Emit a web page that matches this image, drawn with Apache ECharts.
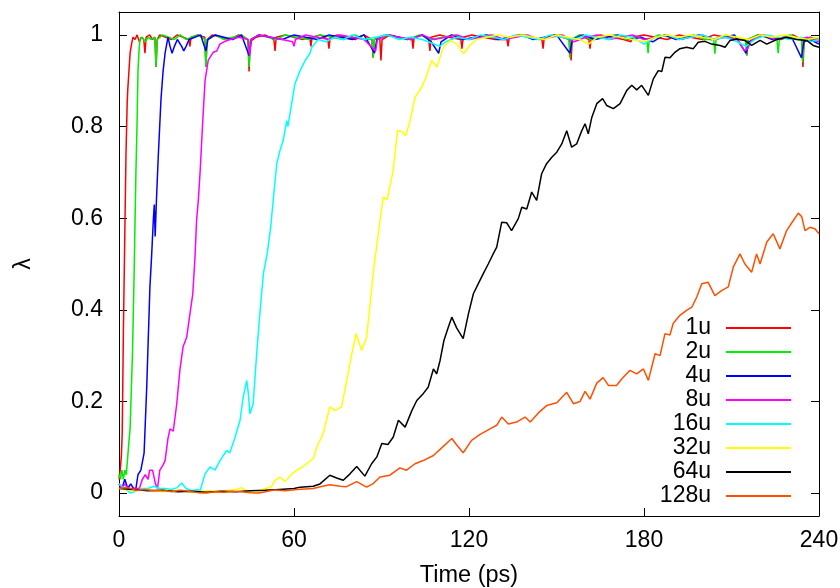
<!DOCTYPE html>
<html><head><meta charset="utf-8">
<script src="https://cdn.jsdelivr.net/npm/echarts@6/dist/echarts.min.js"></script>
<style>html,body{margin:0;padding:0;background:#fff}#c{width:840px;height:588px}</style>
</head><body><div id="c"></div>
<script>
const seriesNames = ['1u','2u','4u','8u','16u','32u','64u','128u'];
const seriesColors = ['#ff0000','#00ee00','#0000ff','#ff00ff','#00ffff','#ffff00','#000000','#ff5000'];
const xTicks = [0,60,120,180,240];
const yTicks = [0,0.2,0.4,0.6,0.8,1];

const s1u = [[0,0.03],[0.4,0.05],[0.8,0.08],[1.1,0.13],[1.5,0.35],[2.0,0.57],[2.4,0.74],[2.8,0.85],[3.0,0.88],[3.4,0.92],[3.8,0.96],[4.3,0.98],[4.8,0.995],[5.5,0.99],[6.2,1.0],[7,0.985],[7.6,0.995],[8.5,0.99],[8.9,0.96],[9.3,0.995],[10.5,1.0],[11.5,0.99],[12.3,0.995],[12.7,0.93],[13.1,0.99],[14,1.0],[16,0.995],[18,0.99],[20,1.0],[22,0.995],[23.9,0.99],[24.3,0.975],[24.7,0.995],[27,1.0],[29.4,0.995],[29.8,0.93],[30.2,0.99],[32,1.0],[35,0.995],[38,0.99],[41,1.0],[44.2,0.99],[44.6,0.92],[45,0.985],[47,0.995],[50,1.0],[53.1,0.99],[53.5,0.965],[53.9,0.995],[57,1.0],[60,0.995],[63,0.99],[65.4,0.995],[65.8,0.975],[66.2,0.995],[69,1.0],[71.6,0.99],[72,0.97],[72.4,0.995],[75,1.0],[78,0.995],[81,0.99],[84,1.0],[86.7,0.99],[87.1,0.95],[87.5,0.99],[89.4,0.995],[89.8,0.944],[90.2,0.99],[93,1.0],[96,0.995],[99,0.99],[100.4,0.995],[100.8,0.97],[101.2,0.995],[104,1.0],[106.2,0.99],[106.6,0.965],[107,0.995],[110,1.0],[113,0.995],[117.2,0.99],[117.6,0.97],[118,0.995],[121,1.0],[125,0.995],[129,0.99],[133,0.99],[133.4,0.975],[133.8,0.995],[137,1.0],[141,0.995],[145,0.99],[145.4,0.97],[145.8,0.995],[149,1.0],[152,0.995],[154.6,0.99],[155,0.944],[155.4,0.99],[158,1.0],[161.1,0.99],[161.5,0.97],[161.9,0.995],[165,1.0],[169,0.995],[173,0.99],[175.5,0.985],[176,0.995],[180,1.0],[184,0.995],[188,0.99],[192,1.0],[196,0.995],[200,0.99],[204,1.0],[208,0.995],[212,0.99],[214.9,0.99],[215.3,0.955],[215.7,0.99],[219,1.0],[223,0.995],[227,0.99],[231,1.0],[234.1,0.99],[234.5,0.93],[234.9,0.985],[237,0.995],[240,0.99]];

const s2u = [[0,0.04],[0.5,0.03],[1,0.05],[1.5,0.03],[2,0.05],[2.5,0.04],[3,0.08],[3.5,0.12],[3.8,0.14],[4.2,0.22],[4.6,0.3],[5,0.42],[5.3,0.52],[5.8,0.7],[6.2,0.81],[6.5,0.92],[6.9,0.97],[7.2,0.99],[8,0.995],[9,0.985],[10,0.995],[11,0.99],[12.3,0.995],[12.7,0.93],[13.1,0.99],[15,1.0],[17,0.995],[19,0.99],[21,1.0],[23,0.99],[25,0.995],[27,1.0],[29.4,0.99],[29.8,0.93],[30.2,0.99],[33,1.0],[36,0.99],[39,0.995],[42,1.0],[44.2,0.99],[44.6,0.93],[45,0.99],[48,1.0],[51,0.995],[54,0.99],[57,1.0],[61,0.995],[65,0.99],[69,1.0],[73,0.995],[77,0.99],[81,1.0],[84,0.99],[86.8,0.99],[87.2,0.95],[87.6,0.99],[91,1.0],[95,0.995],[99,0.99],[103,1.0],[107,0.99],[111,0.995],[115,1.0],[119,0.99],[123,0.995],[127,1.0],[131,0.99],[135,0.995],[139,1.0],[143,0.99],[147,0.995],[151,1.0],[154.2,0.99],[154.6,0.95],[155,0.99],[158,1.0],[162,0.99],[166,0.995],[170,1.0],[174,0.99],[178,0.995],[181,0.99],[181.4,0.96],[181.8,0.99],[185,1.0],[189,0.995],[193,0.99],[197,1.0],[201,0.99],[203.9,0.99],[204.3,0.959],[204.7,0.99],[208,1.0],[212,0.99],[214.8,0.99],[215.2,0.955],[215.6,0.99],[219,1.0],[222,0.995],[225.6,0.99],[226,0.96],[226.4,0.99],[230,1.0],[234,0.99],[234.4,0.94],[234.8,0.99],[237,0.995],[240,0.985]];

const s4u = [[0,0.02],[1,0.01],[2,0.03],[3,0.01],[4,0.02],[5,0.01],[5.8,0.01],[6.5,0.04],[7.5,0.05],[8.6,0.087],[9.5,0.23],[10.6,0.45],[11.2,0.52],[11.8,0.6],[12.1,0.63],[12.4,0.56],[12.9,0.65],[13.5,0.74],[14.4,0.86],[15.1,0.92],[15.8,0.96],[16.8,0.995],[17.5,0.975],[18.2,0.96],[19,0.975],[20,0.99],[21.5,0.975],[22.2,0.965],[23,0.975],[24,0.99],[26,0.995],[28,1.0],[29.8,0.965],[30.5,0.99],[33,1.0],[36,0.995],[39,0.99],[42,1.0],[44.6,0.955],[45.4,0.99],[48,1.0],[52,0.995],[56,0.99],[60,1.0],[64,0.995],[68,0.99],[72,1.0],[76,0.995],[80,0.99],[84,1.0],[87.6,0.96],[88.4,0.99],[92,1.0],[96,0.995],[100,0.99],[104,1.0],[107,0.985],[109.6,0.96],[110.4,0.985],[114,1.0],[118,0.99],[122,0.995],[126,1.0],[130,0.99],[134,0.995],[138,1.0],[142,0.99],[146,0.995],[150,1.0],[154.6,0.96],[155.4,0.99],[159,1.0],[163,0.99],[167,0.995],[171,1.0],[175,0.99],[179,0.995],[183,0.985],[187,1.0],[191,0.99],[195,0.995],[199,1.0],[203,0.99],[207,0.995],[211,1.0],[215,0.96],[216,0.985],[220,1.0],[224,0.99],[228,0.995],[231,0.99],[234,0.95],[234.8,0.985],[237,0.99],[240,0.98]];

const s8u = [[0,0.02],[1,0.01],[2,0.02],[3,0.01],[5,0.01],[7,0.01],[8,0.03],[9,0.04],[10,0.03],[10.5,0.05],[11.5,0.05],[12.5,0.02],[13.2,0.01],[14,0.05],[15,0.06],[15.8,0.071],[16.8,0.12],[17.5,0.14],[18.6,0.135],[19.8,0.195],[20.9,0.27],[22,0.32],[23.2,0.34],[24.3,0.39],[25.3,0.435],[26.1,0.52],[26.6,0.595],[27.2,0.64],[27.8,0.70],[28.7,0.81],[29.5,0.90],[30.6,0.945],[32.3,0.962],[33.5,0.965],[34.6,0.98],[36,0.985],[38,0.99],[41,0.995],[44.2,0.99],[44.8,0.955],[45.4,0.99],[48,1.0],[52,0.995],[56,0.99],[59.5,0.985],[60,0.975],[60.5,0.99],[64,1.0],[68,0.995],[72,0.99],[76,1.0],[80,0.995],[84,0.99],[88,0.965],[88.6,0.99],[92,1.0],[96,0.995],[100,0.99],[104,1.0],[108,0.99],[112,0.995],[116,1.0],[120,0.99],[124,0.995],[128,1.0],[132,0.99],[136,0.995],[140,1.0],[144,0.99],[148,0.995],[152,1.0],[156,0.985],[160,0.995],[164,1.0],[168,0.99],[172,0.995],[176,1.0],[180,0.99],[184,0.995],[188,1.0],[192,0.99],[196,0.995],[200,1.0],[204,0.99],[208,0.995],[212,0.99],[214.5,0.965],[215.5,0.97],[217,0.99],[221,1.0],[225,0.99],[229,0.995],[233,0.99],[236,0.995],[240,0.985]];

const s16u = [[0,0.02],[2,0.01],[4,0.0],[6,0.005],[8,0.01],[10,0.01],[12,0.015],[14,0.01],[16,0.01],[18,0.008],[20,0.012],[21.5,0.022],[23,0.01],[25,0.005],[27,0.008],[27.8,0.005],[29.5,0.042],[31.2,0.057],[32.9,0.05],[34.6,0.071],[36.9,0.093],[38,0.088],[39.8,0.122],[41.5,0.159],[42.6,0.21],[43.8,0.246],[44.3,0.22],[44.9,0.173],[46,0.195],[47.2,0.304],[48.1,0.377],[49.5,0.479],[50.8,0.522],[52,0.58],[53.3,0.668],[54.1,0.719],[55.2,0.748],[56.3,0.77],[57.5,0.813],[57.9,0.80],[59.2,0.85],[60.3,0.893],[62.1,0.922],[63.8,0.944],[65.5,0.96],[66.1,0.973],[68.3,0.99],[71,0.985],[74,0.995],[77,0.99],[80,1.0],[84,0.99],[88,0.995],[92,1.0],[96,0.99],[100,0.995],[104,0.99],[108,0.98],[110,0.975],[112,0.985],[116,0.995],[120,0.99],[124,1.0],[128,0.995],[132,0.99],[136,1.0],[140,0.995],[144,0.99],[148,1.0],[152,0.995],[156,0.99],[160,1.0],[164,0.995],[168,0.99],[172,1.0],[176,0.995],[180,0.98],[184,0.995],[188,1.0],[192,0.99],[196,0.995],[200,1.0],[204,0.99],[208,0.995],[212,0.985],[215,0.975],[218,0.99],[222,1.0],[226,0.995],[230,0.99],[234,0.995],[237,0.985],[240,0.99]];

const s32u = [[0,0.01],[5,0.005],[10,0.008],[15,0.003],[20,0.006],[25,0.002],[30,0.005],[35,0.004],[40,0.008],[42,0.012],[44,0.004],[47,0.0],[50,0.01],[52,0.012],[53.5,0.028],[55.2,0.035],[57,0.025],[59,0.04],[60.9,0.05],[62.5,0.055],[64.3,0.064],[66.6,0.075],[67.8,0.10],[70,0.13],[72.3,0.188],[74.1,0.18],[76.3,0.188],[78.1,0.246],[79.8,0.304],[81.3,0.348],[83.2,0.311],[84.9,0.34],[86.1,0.413],[87.4,0.493],[89.5,0.595],[90.6,0.646],[91.9,0.64],[94,0.704],[95.5,0.791],[96.9,0.79],[98.3,0.78],[99.8,0.813],[101.5,0.864],[103.8,0.886],[105.3,0.908],[107.2,0.944],[109,0.93],[111.2,0.973],[113.5,0.988],[115.8,0.98],[118.1,0.959],[120.3,0.977],[122.6,0.99],[126,0.995],[130,1.0],[134,0.995],[138,1.0],[142,0.995],[146,0.99],[150,1.0],[154,0.995],[158,0.99],[161,0.98],[164,0.995],[168,1.0],[172,0.995],[176,0.99],[180,0.985],[184,0.995],[188,1.0],[192,0.995],[196,1.0],[200,0.995],[204,0.99],[208,1.0],[212,0.995],[216,0.99],[220,1.0],[224,0.995],[228,1.0],[232,0.995],[236,0.99],[240,0.995]];

const s64u = [[0,0.01],[5,0.008],[10,0.005],[15,0.006],[20,0.003],[25,0.004],[30,0.002],[35,0.004],[40,0.003],[45,0.005],[50,0.006],[55,0.008],[60,0.01],[62.1,0.013],[66.6,0.015],[68.9,0.02],[72.3,0.039],[74.6,0.033],[76.9,0.028],[79.2,0.042],[81.5,0.058],[84.3,0.037],[86.6,0.064],[88.4,0.079],[90.1,0.108],[92.2,0.106],[94,0.122],[95.8,0.159],[98.1,0.144],[100.4,0.18],[102.1,0.202],[104.3,0.217],[106,0.231],[107.8,0.271],[108.9,0.26],[110.1,0.29],[111.4,0.333],[112.9,0.362],[114.1,0.384],[115.8,0.36],[118,0.337],[119.8,0.391],[121.5,0.435],[123.2,0.457],[124.9,0.479],[126.6,0.50],[128.3,0.522],[129.5,0.537],[131.2,0.591],[132.9,0.59],[134.6,0.573],[136.9,0.599],[138.1,0.624],[139.8,0.62],[141.5,0.657],[143.2,0.639],[144.9,0.697],[146.6,0.719],[148.4,0.733],[150.1,0.744],[151.8,0.762],[153.5,0.791],[155.2,0.755],[156.9,0.762],[158.6,0.79],[159.8,0.806],[160.9,0.784],[162.1,0.82],[163.8,0.85],[165.8,0.861],[167.2,0.846],[169.5,0.839],[171.8,0.85],[174.1,0.879],[175.8,0.89],[177.5,0.88],[179.2,0.89],[181.5,0.868],[183.2,0.904],[184.9,0.922],[186.1,0.92],[187.2,0.951],[188.9,0.95],[190.6,0.962],[192.3,0.97],[194.6,0.973],[196.9,0.97],[198.6,0.984],[200.9,0.986],[203.2,0.98],[206.1,0.977],[207.8,0.973],[209.5,0.988],[211.8,0.991],[214.6,0.988],[216.9,0.977],[219.8,0.988],[222.1,0.98],[225.5,0.99],[228.9,0.995],[232.3,0.99],[235.8,0.988],[238,0.977],[240,0.973]];

const s128u = [[0,0.01],[3,0.012],[6,0.006],[9,0.008],[12,0.005],[15,0.007],[18,0.003],[21,0.006],[24,0.004],[27,0.001],[30,0.0],[33,0.003],[36,0.002],[39,0.004],[42,0.003],[45,0.001],[48,0.0],[51,0.004],[53.5,0.007],[57,0.005],[61,0.008],[66.6,0.01],[69,0.014],[72.3,0.018],[75.8,0.015],[78,0.014],[81.5,0.025],[84.9,0.013],[87,0.02],[89.5,0.035],[92.9,0.039],[96.3,0.055],[98.6,0.05],[101.5,0.064],[104.3,0.071],[107.8,0.082],[111.2,0.102],[114.1,0.119],[115.8,0.105],[118,0.088],[120.9,0.115],[123.8,0.128],[127.2,0.14],[129.5,0.148],[131.2,0.166],[133.5,0.151],[136.3,0.155],[139.2,0.166],[141,0.155],[143.8,0.175],[146.6,0.191],[150.1,0.197],[153.5,0.22],[155.8,0.195],[158.1,0.2],[159.8,0.222],[161.5,0.205],[163.8,0.24],[166,0.252],[167.8,0.235],[170.6,0.235],[172.5,0.25],[175.2,0.268],[177.5,0.26],[179.8,0.271],[181.5,0.246],[183.8,0.304],[185.5,0.30],[187.2,0.348],[188.9,0.345],[190,0.37],[192.3,0.388],[194.6,0.399],[196.4,0.406],[198.1,0.428],[199.8,0.457],[202,0.46],[204.3,0.431],[206.6,0.442],[208.9,0.45],[210.6,0.493],[212.9,0.522],[214.6,0.50],[216.9,0.482],[218.6,0.522],[219.8,0.50],[222.1,0.548],[224.3,0.566],[226.6,0.533],[228.9,0.573],[231.2,0.595],[232.9,0.611],[234.1,0.603],[235.2,0.573],[236.9,0.58],[238.6,0.577],[240,0.566]];

const seriesData = [s1u,s2u,s4u,s8u,s16u,s32u,s64u,s128u];

const FONT = 'Liberation Sans, Arial, Helvetica, sans-serif';
const axisLineStyle = {color:'#000', width:1};

const chart = echarts.init(document.getElementById('c'), null, {renderer:'canvas'});
chart.setOption({
  animation:false,
  backgroundColor:'#fff',
  grid:{left:119, right:21, top:12, bottom:72, containLabel:false, outerBoundsMode:'none'},
  legend:{
    orient:'vertical', align:'right', right:49, top:316, padding:0, itemGap:0,
    itemWidth:65, itemHeight:2, icon:'rect',
    textStyle:{fontFamily:FONT, fontSize:23, color:'#000', lineHeight:24, padding:[0,10,0,0]},
    data:seriesNames
  },
  xAxis:[
    {type:'value', min:0, max:240, position:'bottom',
     name:'Time (ps)', nameLocation:'middle', nameGap:48,
     nameTextStyle:{fontFamily:FONT, fontSize:23.5, color:'#000'},
     axisLine:{show:true, onZero:false, lineStyle:axisLineStyle},
     axisTick:{show:true, inside:true, length:8, lineStyle:axisLineStyle, customValues:xTicks},
     axisLabel:{show:true, margin:13, fontFamily:FONT, fontSize:23, color:'#000', customValues:xTicks},
     splitLine:{show:false}},
    {type:'value', min:0, max:240, position:'top',
     axisLine:{show:true, onZero:false, lineStyle:axisLineStyle},
     axisTick:{show:true, inside:true, length:8, lineStyle:axisLineStyle, customValues:xTicks},
     axisLabel:{show:false}, splitLine:{show:false}}
  ],
  yAxis:[
    {type:'value', min:-0.05, max:1.05, position:'left',
     name:'λ', nameLocation:'middle', nameGap:84,
     nameTextStyle:{fontFamily:FONT, fontSize:23, color:'#000'},
     axisLine:{show:true, onZero:false, lineStyle:axisLineStyle},
     axisTick:{show:true, inside:true, length:8, lineStyle:axisLineStyle, customValues:yTicks},
     axisLabel:{show:true, margin:16, fontFamily:FONT, fontSize:23, color:'#000', customValues:yTicks},
     splitLine:{show:false}},
    {type:'value', min:-0.05, max:1.05, position:'right',
     axisLine:{show:true, onZero:false, lineStyle:axisLineStyle},
     axisTick:{show:true, inside:true, length:8, lineStyle:axisLineStyle, customValues:yTicks},
     axisLabel:{show:false}, splitLine:{show:false}}
  ],
  series: seriesNames.map((n,i)=>({
    name:n, type:'line', data:seriesData[i], xAxisIndex:0, yAxisIndex:0,
    showSymbol:false, symbol:'none', smooth:false,
    lineStyle:{color:seriesColors[i], width:1.5},
    itemStyle:{color:seriesColors[i]},
    emphasis:{disabled:true}
  }))
});
</script></body></html>
